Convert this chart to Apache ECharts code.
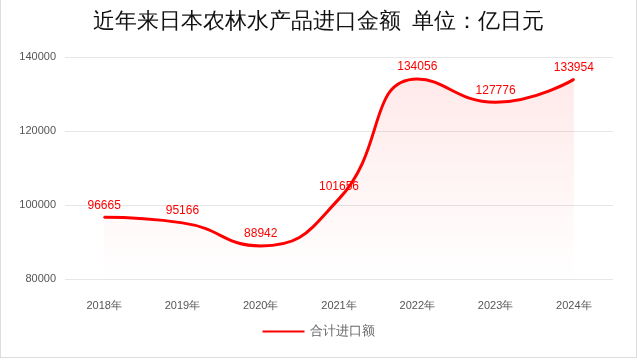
<!DOCTYPE html>
<html><head><meta charset="utf-8">
<script src="https://cdn.jsdelivr.net/npm/echarts@6/dist/echarts.min.js"></script>
<style>html,body{margin:0;padding:0;background:#fff}#c{width:635px;height:357px;border:1px solid #ddd;border-top:none}</style>
</head><body><div id="c"></div>
<script>
var categories = ['2018年','2019年','2020年','2021年','2022年','2023年','2024年'];
var seriesName = '合计进口额';
var values = [96665, 95166, 88942, 101656, 134056, 127776, 133954];
var titleText = '近年来日本农林水产品进口金额  单位：亿日元';

var chart = echarts.init(document.getElementById('c'));
chart.setOption({
  animation: false,
  backgroundColor: '#fff',
  title: { text: titleText, left: 'center', top: 6,
    textStyle: { fontFamily: 'serif', fontSize: 22, fontWeight: 'normal', color: '#111' } },
  legend: { bottom: 14, itemWidth: 42, itemHeight: 10, icon: 'path://M0,4 L42,4 L42,6 L0,6 Z',
    itemStyle: { color: '#ff0000' },
    textStyle: { color: '#666', fontSize: 13 }, data: [seriesName] },
  grid: { left: 64, right: 23, top: 57, bottom: 78 },
  xAxis: { type: 'category', data: categories, boundaryGap: true,
    axisLine: { show: false }, axisTick: { show: false },
    axisLabel: { color: '#555', fontSize: 11, margin: 21 } },
  yAxis: { type: 'value', min: 80000, max: 140000, interval: 20000,
    axisLine: { show: false }, axisTick: { show: false },
    axisLabel: { color: '#555', fontSize: 11, margin: 9, formatter: function(v){ return String(v); } },
    splitLine: { lineStyle: { color: '#e6e6e6' } } },
  series: [{
    name: seriesName, type: 'line', data: values, smooth: true,
    symbol: 'circle', symbolSize: 2, showSymbol: true,
    lineStyle: { color: '#ff0000', width: 3 },
    itemStyle: { color: '#ff0000' },
    label: { show: true, position: 'top', color: '#ff0000', fontSize: 12, fontFamily: 'Liberation Sans, sans-serif', distance: 5 },
    areaStyle: { color: new echarts.graphic.LinearGradient(0,0,0,1,[
      {offset:0,color:'rgba(255,0,0,0.12)'},{offset:1,color:'rgba(255,0,0,0)'}]) }
  }]
});
</script></body></html>
